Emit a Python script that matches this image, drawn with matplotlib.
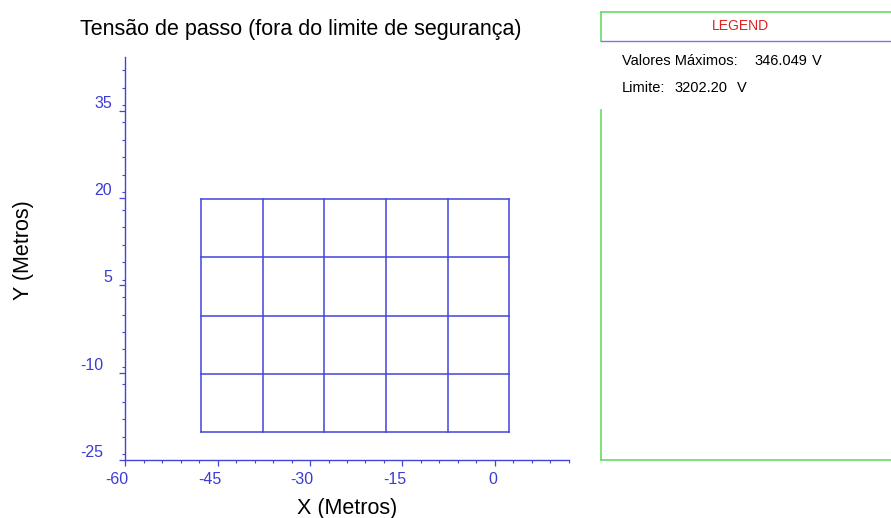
import matplotlib
matplotlib.use("Agg")
import matplotlib.pyplot as plt
import matplotlib.transforms as mtransforms
from matplotlib.ticker import MultipleLocator
from matplotlib.lines import Line2D

plt.rcParams['font.family'] = ['Liberation Sans', 'DejaVu Sans']
plt.rcParams['axes.unicode_minus'] = False

# Grid conductor lines (metres)
grid_x = [-47.7, -37.7, -27.7, -17.7, -7.7, 2.3]
grid_y = [-20.2, -10.2, -0.2, 9.8, 19.8]

x_ticks = [-60, -45, -30, -15, 0]
y_ticks = [-25, -10, 5, 20, 35]

title = "Tensão de passo (fora do limite de segurança)"
legend_title = "LEGEND"
max_value = "346.049"
limit_value = "3202.20"

blue = "#4444dd"
tick_blue = "#3b3bd6"

fig = plt.figure(figsize=(8.91, 5.18), dpi=100)
ax = fig.add_axes([0.1403, 0.112, 0.4983, 0.7785])

for x in grid_x:
    ax.plot([x, x], [grid_y[0], grid_y[-1]], color=blue, lw=1.1)
for y in grid_y:
    ax.plot([grid_x[0], grid_x[-1]], [y, y], color=blue, lw=1.1)

ax.set_xlim(-60, 12)
ax.set_ylim(-25, 44.3)
ax.set_xticks(x_ticks)
ax.set_yticks(y_ticks)
ax.xaxis.set_minor_locator(MultipleLocator(3))
ax.yaxis.set_minor_locator(MultipleLocator(3))

for s in ("top", "right"):
    ax.spines[s].set_visible(False)
for s in ("left", "bottom"):
    ax.spines[s].set_color(blue)
    ax.spines[s].set_linewidth(1.0)

ax.tick_params(which="major", direction="out", length=4, width=0.9, color=blue,
               labelcolor=tick_blue, labelsize=11.5)
ax.tick_params(axis="x", which="major", pad=5)
ax.tick_params(axis="y", which="major", pad=6)
ax.tick_params(which="minor", direction="out", length=2.5, width=0.8, color=blue)


def nudge(px):
    return mtransforms.ScaledTranslation(px / 100, 0, fig.dpi_scale_trans)


# Negative labels sit a little further left, as the leading hyphen hangs out
fig.canvas.draw()
for lab, v in zip(ax.get_xticklabels(), x_ticks):
    lab.set_transform(lab.get_transform() + nudge(-8 if v < 0 else -2))
for lab, v in zip(ax.get_yticklabels(), y_ticks):
    lab.set_verticalalignment("bottom")
    lab.set_transform(lab.get_transform() + nudge(-8 if v < 0 else 1))

ax.set_xlabel("X (Metros)", fontsize=15.5)
ax.xaxis.set_label_coords(0.5, -0.095)
ax.set_ylabel("Y (Metros)", fontsize=15.5)
ax.yaxis.set_label_coords(-0.205, 0.52)

fig.text(0.09, 0.944, title, fontsize=15.5, ha="left", va="center")

# Legend panel
x0, x1 = 601 / 891, 1.0
y_top, y_sep, y_bot = 1 - 11.7 / 518, 1 - 40.7 / 518, 1 - 460 / 518
green = "#66dd66"
fig.add_artist(Line2D([x0, x1], [y_top, y_top], color=green, lw=1.2, transform=fig.transFigure))
fig.add_artist(Line2D([x0, x1], [y_bot, y_bot], color=green, lw=1.2, transform=fig.transFigure))
fig.add_artist(Line2D([x0, x0], [y_top, y_sep], color=green, lw=1.2, transform=fig.transFigure))
fig.add_artist(Line2D([x0, x0], [1 - 110 / 518, y_bot], color=green, lw=1.2, transform=fig.transFigure))
fig.add_artist(Line2D([x0, x1], [y_sep, y_sep], color="#7777ee", lw=1.0, transform=fig.transFigure))

fig.text(740 / 891, 1 - 26 / 518, legend_title, color="#dd2222", fontsize=10,
         ha="center", va="center")

# Legend entries: label, value and unit placed as separate pieces
legend_rows = [("Valores Máximos:", max_value, 622, 754, 812, 61),
               ("Limite:", limit_value, 622, 674, 737, 88)]
for label, value, xl, xv, xu, yy in legend_rows:
    for txt, xx in ((label, xl), (value, xv), ("V", xu)):
        fig.text(xx / 891, 1 - yy / 518, txt, fontsize=10.5, ha="left", va="center")

fig.savefig("out.png", dpi=100)
